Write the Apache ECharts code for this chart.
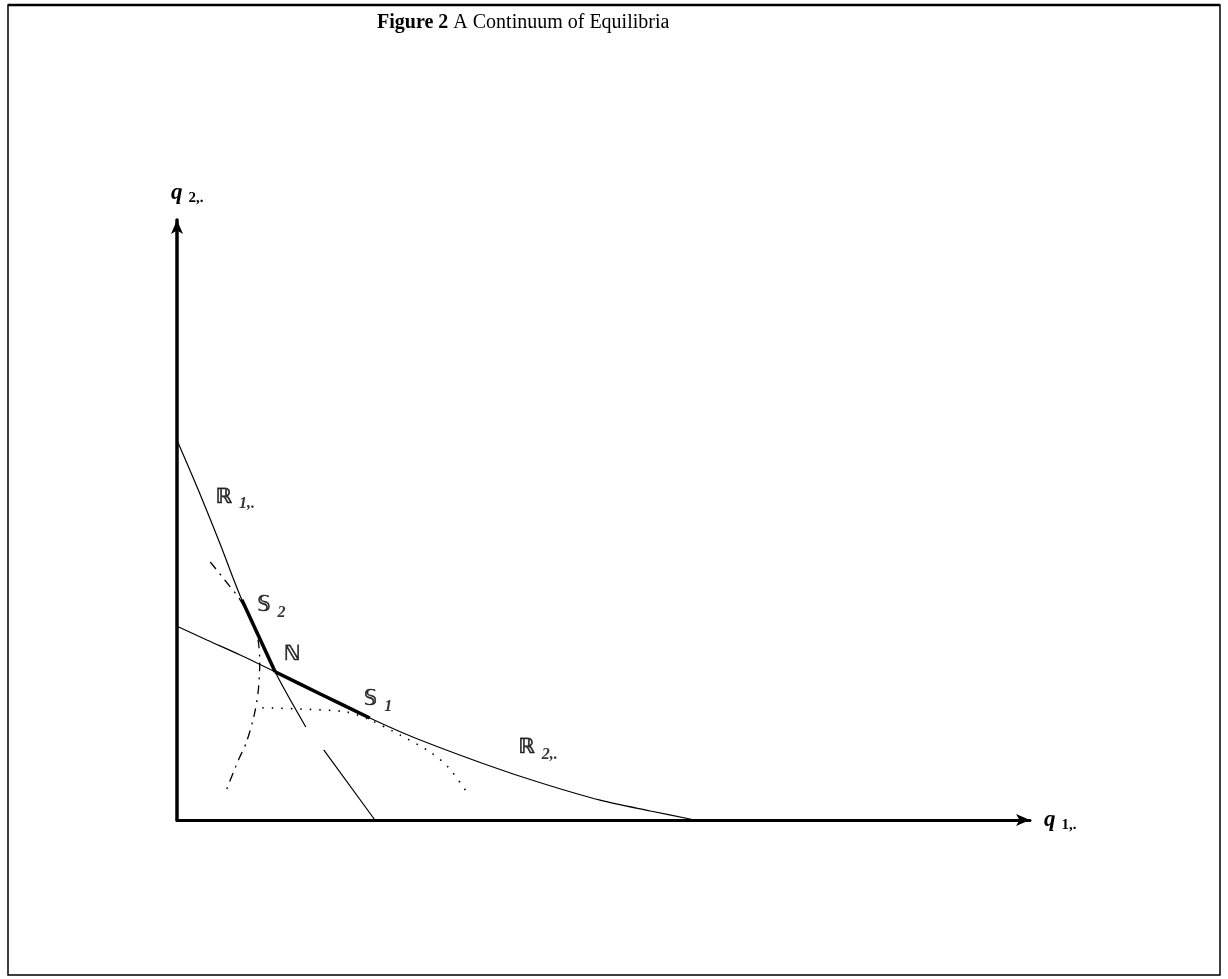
<!DOCTYPE html>
<html>
<head>
<meta charset="utf-8">
<script src="https://cdn.jsdelivr.net/npm/echarts@6/dist/echarts.min.js"></script>
<style>
  html, body { margin: 0; padding: 0; background: #fff; }
  #chart { width: 1228px; height: 979px; }
</style>
</head>
<body>
<div id="chart"></div>
<script>
// Reaction curve of firm 1 (q1, q2)
const r1Curve = [[0, 6.33], [0.25, 5.50], [0.50, 4.62], [0.76, 3.67], [1.15, 2.47], [1.51, 1.55]];
// Lower stretch of firm 1's reaction curve
const r1Tail = [[1.72, 1.17], [2.32, 0.0]];
// Reaction curve of firm 2
const r2Curve = [[0, 3.23], [0.35, 3.00], [0.74, 2.75], [1.15, 2.47], [1.68, 2.10], [2.26, 1.70], [2.77, 1.38], [3.67, 0.90], [4.26, 0.62], [4.96, 0.33], [5.55, 0.15], [6.07, 0]];
// Equilibrium segments S2-N and N-S1
const segS2N = [[0.76, 3.67], [1.15, 2.47]];
const segNS1 = [[1.15, 2.47], [1.68, 2.10], [2.26, 1.70]];
// Iso-profit curves
const dashDotCurve = [[0.39, 4.30], [0.56, 4.00], [0.74, 3.67], [0.88, 3.33], [0.95, 3.00], [0.97, 2.62], [0.95, 2.12], [0.90, 1.72], [0.81, 1.28], [0.72, 1.00], [0.57, 0.47]];
const dottedCurve = [[1.00, 1.87], [1.44, 1.85], [1.99, 1.80], [2.26, 1.67], [2.61, 1.42], [2.97, 1.13], [3.18, 0.88], [3.38, 0.50]];
// Curve and point labels
const labelMain = ['\u211D', '\uD835\uDD4A', '\u2115', '\uD835\uDD4A', '\u211D'];
const labelSub = ['1,.', '2', '', '1', '2,.'];
const labelPos = [[0.45, 5.38], [0.94, 3.57], [1.25, 2.75], [2.19, 2.00], [4.00, 1.20]];

const chart = echarts.init(document.getElementById('chart'));

const glyphStyle = {
  fontFamily: 'DejaVu Sans', fontStyle: 'italic', fontSize: 21, color: '#000',
  textBorderColor: '#000', textBorderWidth: 0.6
};
const subStyle = { fontFamily: 'Liberation Serif', fontStyle: 'italic', fontWeight: 'bold', fontSize: 16, color: '#000', padding: [14, 0, 0, 7] };
const axisNameRich = {
  q: { fontFamily: 'Liberation Serif', fontStyle: 'italic', fontWeight: 'bold', fontSize: 23, color: '#000' },
  s: { fontFamily: 'Liberation Serif', fontWeight: 'bold', fontSize: 15, color: '#000', padding: [10, 0, 0, 6] }
};

function curve(data, opts) {
  return Object.assign({
    type: 'line', data: data, symbol: 'none', smooth: 0.3, silent: true,
    lineStyle: { color: '#000', width: 1.2 }
  }, opts);
}

chart.setOption({
  backgroundColor: '#fff',
  animation: false,
  title: {
    text: '{b|Figure 2} A Continuum of Equilibria',
    left: 372, top: 8,
    textStyle: {
      fontFamily: 'Liberation Serif', fontSize: 20, fontWeight: 'normal', color: '#000',
      rich: { b: { fontFamily: 'Liberation Serif', fontSize: 20, fontWeight: 'bold', color: '#000' } }
    }
  },
  graphic: [
    { type: 'rect', shape: { x: 8, y: 5, width: 1212, height: 970 }, style: { fill: 'none', stroke: '#000', lineWidth: 1.5 } },
    { type: 'line', shape: { x1: 8, y1: 5, x2: 1220, y2: 5 }, style: { stroke: '#000', lineWidth: 2.5 } }
  ],
  grid: { left: 177, top: 220, width: 853, height: 600, containLabel: false },
  xAxis: {
    type: 'value', min: 0, max: 10,
    axisLine: { show: true, onZero: false, symbol: ['none', 'arrow'], symbolSize: [9, 14], lineStyle: { color: '#000', width: 3 } },
    axisTick: { show: false }, axisLabel: { show: false }, splitLine: { show: false },
    name: '{q|q}{s|1,.}', nameLocation: 'end', nameGap: 14,
    nameTextStyle: { rich: axisNameRich, align: 'left', verticalAlign: 'middle' }
  },
  yAxis: {
    type: 'value', min: 0, max: 10,
    axisLine: { show: true, onZero: false, symbol: ['none', 'arrow'], symbolSize: [9, 14], lineStyle: { color: '#000', width: 3.5 } },
    axisTick: { show: false }, axisLabel: { show: false }, splitLine: { show: false },
    name: '{q|q}{s|2,.}', nameLocation: 'end', nameGap: 14,
    nameTextStyle: { rich: axisNameRich, align: 'left', padding: [0, 0, 0, -6] }
  },
  series: [
    curve(r1Curve),
    curve(r1Tail, { smooth: false }),
    curve(r2Curve),
    curve(dashDotCurve, { lineStyle: { color: '#000', width: 1.3, type: [9, 6, 2, 6] } }),
    curve(dottedCurve, { lineStyle: { color: '#000', width: 1.6, type: [1.5, 8] } }),
    curve(segS2N, { smooth: false, lineStyle: { color: '#000', width: 3.5 } }),
    curve(segNS1, { lineStyle: { color: '#000', width: 3.5 } }),
    {
      type: 'scatter', symbolSize: 0, silent: true,
      data: labelPos.map((p, i) => ({ value: p, main: labelMain[i], sub: labelSub[i] })),
      label: {
        show: true, position: 'inside', align: 'left', verticalAlign: 'middle',
        formatter: p => '{m|' + p.data.main + '}' + (p.data.sub ? '{s|' + p.data.sub + '}' : ''),
        rich: { m: glyphStyle, s: subStyle }
      }
    }
  ]
});
</script>
</body>
</html>
